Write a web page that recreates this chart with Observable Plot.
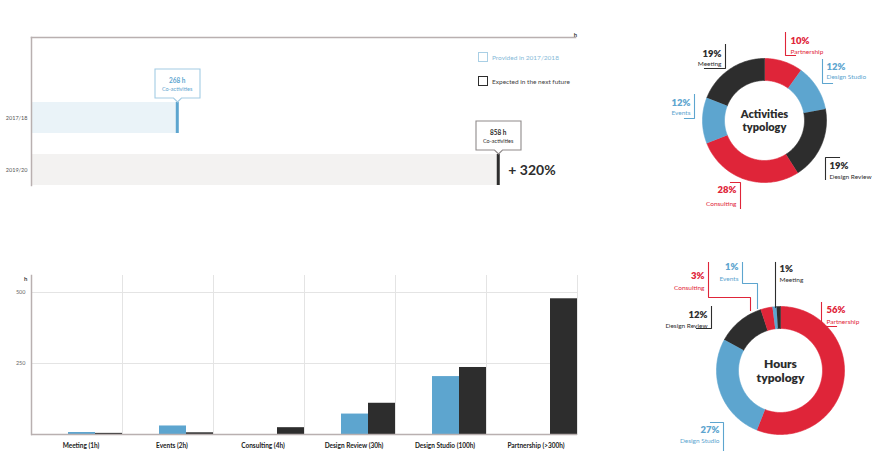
<!DOCTYPE html>
<html><head><meta charset="utf-8">
<script src="https://cdn.jsdelivr.net/npm/d3@7"></script>
<script src="https://cdn.jsdelivr.net/npm/@observablehq/plot@0.6"></script>
<style>
body{margin:0;background:#fff;font-family:Lato,"Open Sans",sans-serif;}
#page{position:relative;width:888px;height:452px;overflow:hidden;background:#fff;}
.panel{position:absolute;}
.legend{position:absolute;left:478px;font-size:6.5px;display:flex;align-items:center;gap:4px;white-space:nowrap;}
.sw{width:10px;height:10px;border:1.3px solid;box-sizing:border-box;}
</style></head>
<body><div id="page">
<div class="panel" id="top" style="left:0;top:0"></div>
<div class="legend" id="lg1" style="top:52px"></div>
<div class="legend" id="lg2" style="top:76px"></div>
<div class="panel" id="bars" style="left:0;top:260px"></div>
<div class="panel" id="d1" style="left:654px;top:12px"></div>
<div class="panel" id="d2" style="left:670px;top:262px"></div>
</div>
<script>
// ---------- data ----------
const years = ["2017/18", "2019/20"];
const coHours = [268, 858];
const yearStatus = ["Provided in 2017/2018", "Expected in the next future"];
const calloutSub = "Co-activities";
const growthLabel = "+ 320%";
const topMax = 1000;

const categories = ["Meeting (1h)", "Events (2h)", "Consulting (4h)", "Design Review (30h)", "Design Studio (100h)", "Partnership (>300h)"];
const series = ["Provided", "Expected"];
const providedHours = [7, 30, 0, 72, 204, 0];
const expectedHours = [4, 6, 24, 110, 236, 478];
const barTicks = [250, 500];
const barMax = 560;

const activityNames = ["Partnership", "Design Studio", "Design Review", "Consulting", "Events", "Meeting"];
const activityShare = [10, 12, 19, 28, 12, 19];
const hoursNames = ["Partnership", "Design Studio", "Design Review", "Consulting", "Events", "Meeting"];
const hoursShare = [56, 27, 12, 3, 1, 1];

// ---------- styles ----------
const RED = "#df2539", BLUE = "#5da5cf", DARK = "#2d2d2d";
const LIGHTBLUE = "#eaf3f8", LIGHTGRAY = "#f3f2f1", AXIS = "#b9b0b0", GRID = "#e4e4e4";
const seriesColor = {Provided: BLUE, Expected: DARK};
const sliceColor = {"Partnership": RED, "Consulting": RED, "Design Studio": BLUE, "Events": BLUE, "Design Review": DARK, "Meeting": DARK};
const FONT = "Lato, 'Open Sans', sans-serif";

// ---------- top chart ----------
const topData = years.map((y, i) => ({year: y, hours: coHours[i], status: yearStatus[i], i}));
const topPlot = Plot.plot({
  width: 600, height: 200, marginTop: 37, marginBottom: 15, marginLeft: 31, marginRight: 25,
  style: {fontFamily: FONT, background: "transparent"},
  x: {domain: [0, topMax], axis: null},
  y: {domain: years, paddingInner: 0.4, paddingOuter: 0.6, align: 1, axis: null},
  color: {type: "identity"},
  marks: [
    Plot.barX(topData, {x: "hours", y: "year", fill: d => d.i === 0 ? LIGHTBLUE : LIGHTGRAY}),
    Plot.frame({anchor: "left", stroke: AXIS, strokeWidth: 1.5}),
    Plot.frame({anchor: "top", stroke: AXIS, strokeWidth: 1.5}),
    Plot.axisY({tickSize: 0, tickPadding: 4, fontSize: 5.5, color: "#555", label: null}),
    Plot.text(["h"], {x: () => topMax, frameAnchor: "top", dy: -5, text: d => d, fontSize: 6, fontWeight: 700, fill: "#444"}),
    Plot.tickX(topData, {x: "hours", y: "year", stroke: d => d.i === 0 ? BLUE : DARK, strokeWidth: 3}),
    Plot.tip(topData, {x: "hours", y: "year", anchor: "bottom", dy: -16,
      title: d => `${d.hours} h\n${calloutSub}`,
      fill: "white", fontSize: 5.5, textPadding: 7, pointerSize: 8, lineHeight: 1.45, textAnchor: "middle"}),
    Plot.text(topData.slice(1), {x: "hours", y: "year", dx: 10, dy: 1, text: () => growthLabel, textAnchor: "start",
      fontSize: 14, fontWeight: 700, fill: DARK})
  ]
});
document.getElementById("top").append(topPlot);
d3.select(topPlot).selectAll('g[aria-label="tip"] > g').each(function(_, k) {
  const col = k === 0 ? BLUE : DARK;
  const border = k === 0 ? "#a3cce4" : "#8f8a8a";
  d3.select(this).selectAll("path").attr("stroke", border).attr("stroke-width", 1.1).attr("fill", "white").style("filter", "none");
  d3.select(this).selectAll("text").attr("fill", col).attr("stroke", "none");
  d3.select(this).selectAll("tspan").attr("fill", col).each(function(_, j) {
    if (j === 0) d3.select(this).attr("font-weight", 700).attr("font-size", 6.5);
  });
});
d3.select(topPlot).selectAll('g[aria-label="tip"]').attr("stroke", null).style("filter", "none");

// legend
[["lg1", "#a9cfe5", "#86b9d8"], ["lg2", DARK, "#444"]].forEach(([id, border, txt], i) => {
  const el = document.getElementById(id);
  el.innerHTML = `<div class="sw" style="border-color:${border}"></div><span style="color:${txt}">${yearStatus[i]}</span>`;
});

// ---------- bar chart ----------
const barData = categories.flatMap((c, i) => [
  {cat: c, series: series[0], hours: providedHours[i]},
  {cat: c, series: series[1], hours: expectedHours[i]}
]);
const barPlot = Plot.plot({
  width: 600, height: 192, marginTop: 15, marginBottom: 18, marginLeft: 30, marginRight: 22,
  style: {fontFamily: FONT, background: "transparent"},
  fx: {domain: categories, padding: 0, label: null},
  x: {domain: series, paddingInner: 0, paddingOuter: 0.634, align: 1, axis: null},
  y: {domain: [0, barMax], axis: null},
  color: {type: "identity"},
  marks: [
    Plot.gridY(barTicks, {stroke: GRID, strokeOpacity: 1}),
    Plot.frame({anchor: "left", stroke: GRID}),
    Plot.frame({anchor: "right", stroke: GRID}),
    Plot.barY(barData, {fx: "cat", x: "series", y: "hours", fill: d => seriesColor[d.series]}),
    Plot.ruleY([0], {stroke: AXIS, strokeWidth: 1.5}),
    Plot.frame({anchor: "left", stroke: AXIS, strokeWidth: 1.5, facetAnchor: "left"}),
    Plot.axisY(barTicks, {tickSize: 0, tickPadding: 6, fontSize: 5.5, color: "#666", label: null}),
    Plot.text(["h"], {frameAnchor: "top-left", facetAnchor: "left", dx: -4, dy: 1, text: d => d, textAnchor: "end", fontSize: 6, fontWeight: 700, fill: "#444"}),
    Plot.axisFx({anchor: "bottom", tickSize: 0, tickPadding: 9, fontSize: 6.5, fontWeight: 700, color: "#222", dx: 4, label: null})
  ]
});
document.getElementById("bars").append(barPlot);

// ---------- donuts ----------
function arcPoints(names, shares, R, r) {
  const arcs = d3.pie().sort(null).value(d => d)(shares);
  const pts = [];
  arcs.forEach((a, i) => {
    const n = Math.max(2, Math.ceil((a.endAngle - a.startAngle) / 0.02));
    for (let k = 0; k <= n; k++) {
      const t = a.startAngle + (a.endAngle - a.startAngle) * k / n;
      pts.push({name: names[i], x: R * Math.sin(t), y: -R * Math.cos(t)});
    }
    for (let k = n; k >= 0; k--) {
      const t = a.startAngle + (a.endAngle - a.startAngle) * k / n;
      pts.push({name: names[i], x: r * Math.sin(t), y: -r * Math.cos(t)});
    }
  });
  return pts;
}

function donut(el, names, shares, cfg) {
  const pts = arcPoints(names, shares, cfg.R, cfg.r);
  const labels = names.map((n, i) => ({name: n, pct: shares[i] + "%", ...cfg.labels[n]}));
  const leaders = labels.flatMap(l => l.path.map(([x, y]) => ({name: l.name, x, y})));
  const plot = Plot.plot({
    width: cfg.W, height: cfg.H, margin: 0,
    style: {fontFamily: FONT, background: "transparent", overflow: "visible"},
    x: {domain: cfg.xd, range: [0, cfg.W], axis: null},
    y: {domain: cfg.yd, range: [0, cfg.H], axis: null},
    color: {type: "identity"},
    marks: [
      Plot.line(pts, {x: "x", y: "y", z: "name", fill: d => sliceColor[d.name], stroke: d => sliceColor[d.name], strokeWidth: 0.6, curve: "linear"}),
      Plot.line(leaders, {x: "x", y: "y", z: "name", stroke: d => sliceColor[d.name], strokeWidth: 1.1, strokeLinejoin: "miter", strokeLinecap: "square"}),
      Plot.text(labels.filter(l => l.a === "start"), {x: "tx", y: "py", text: "pct", textAnchor: "start", fontSize: 9.5, fontWeight: 800, fill: d => sliceColor[d.name]}),
      Plot.text(labels.filter(l => l.a === "end"), {x: "tx", y: "py", text: "pct", textAnchor: "end", fontSize: 9.5, fontWeight: 800, fill: d => sliceColor[d.name]}),
      Plot.text(labels.filter(l => l.a === "start"), {x: "tx", y: "ny", text: "name", textAnchor: "start", fontSize: 6.5, fill: d => sliceColor[d.name]}),
      Plot.text(labels.filter(l => l.a === "end"), {x: "tx", y: "ny", text: "name", textAnchor: "end", fontSize: 6.5, fill: d => sliceColor[d.name]}),
      Plot.text([cfg.title], {x: () => 0, y: () => 0, text: d => d, fontSize: cfg.titleSize, fontWeight: 800, fill: DARK, lineHeight: 1.15})
    ]
  });
  document.getElementById(el).append(plot);
}

donut("d1", activityNames, activityShare, {
  W: 234, H: 210, xd: [-110, 124], yd: [-108, 102], R: 62, r: 40,
  title: "Activities\ntypology", titleSize: 11,
  labels: {
    "Partnership":   {a: "start", tx: 26, py: -80, ny: -69, path: [[21, -88], [21, -65], [31, -65]]},
    "Design Studio": {a: "start", tx: 62, py: -54, ny: -44, path: [[58, -61], [58, -37], [68, -37]]},
    "Design Review": {a: "start", tx: 65, py: 45, ny: 56, path: [[75, 37], [61, 37], [61, 59]]},
    "Consulting":    {a: "end", tx: -28, py: 69, ny: 83, path: [[-34, 62], [-24, 62], [-24, 88]]},
    "Events":        {a: "end", tx: -74, py: -18, ny: -8, path: [[-70, -26], [-70, -2], [-80, -2]]},
    "Meeting":       {a: "end", tx: -43, py: -67, ny: -57, path: [[-39, -76], [-39, -52], [-60, -52]]}
  }
});

donut("d2", hoursNames, hoursShare, {
  W: 218, H: 190, xd: [-110, 108], yd: [-108, 82], R: 64, r: 42,
  title: "Hours\ntypology", titleSize: 12,
  labels: {
    "Partnership":   {a: "start", tx: 46, py: -61, ny: -49, path: [[41, -68], [41, -44], [56, -44]]},
    "Design Studio": {a: "end", tx: -61, py: 59, ny: 70, path: [[-70, 52], [-57, 52], [-57, 80]]},
    "Design Review": {a: "end", tx: -73, py: -56, ny: -45, path: [[-69, -64], [-69, -42], [-84, -42]]},
    "Consulting":    {a: "end", tx: -76, py: -95, ny: -83, path: [[-72, -108], [-72, -73], [-30, -73], [-30, -60]]},
    "Events":        {a: "end", tx: -42, py: -104, ny: -92, path: [[-38, -108], [-38, -87], [-23, -87], [-23, -62]]},
    "Meeting":       {a: "start", tx: -1, py: -102, ny: -91, path: [[-5, -108], [-5, -63]]}
  }
});
</script>
</body></html>
